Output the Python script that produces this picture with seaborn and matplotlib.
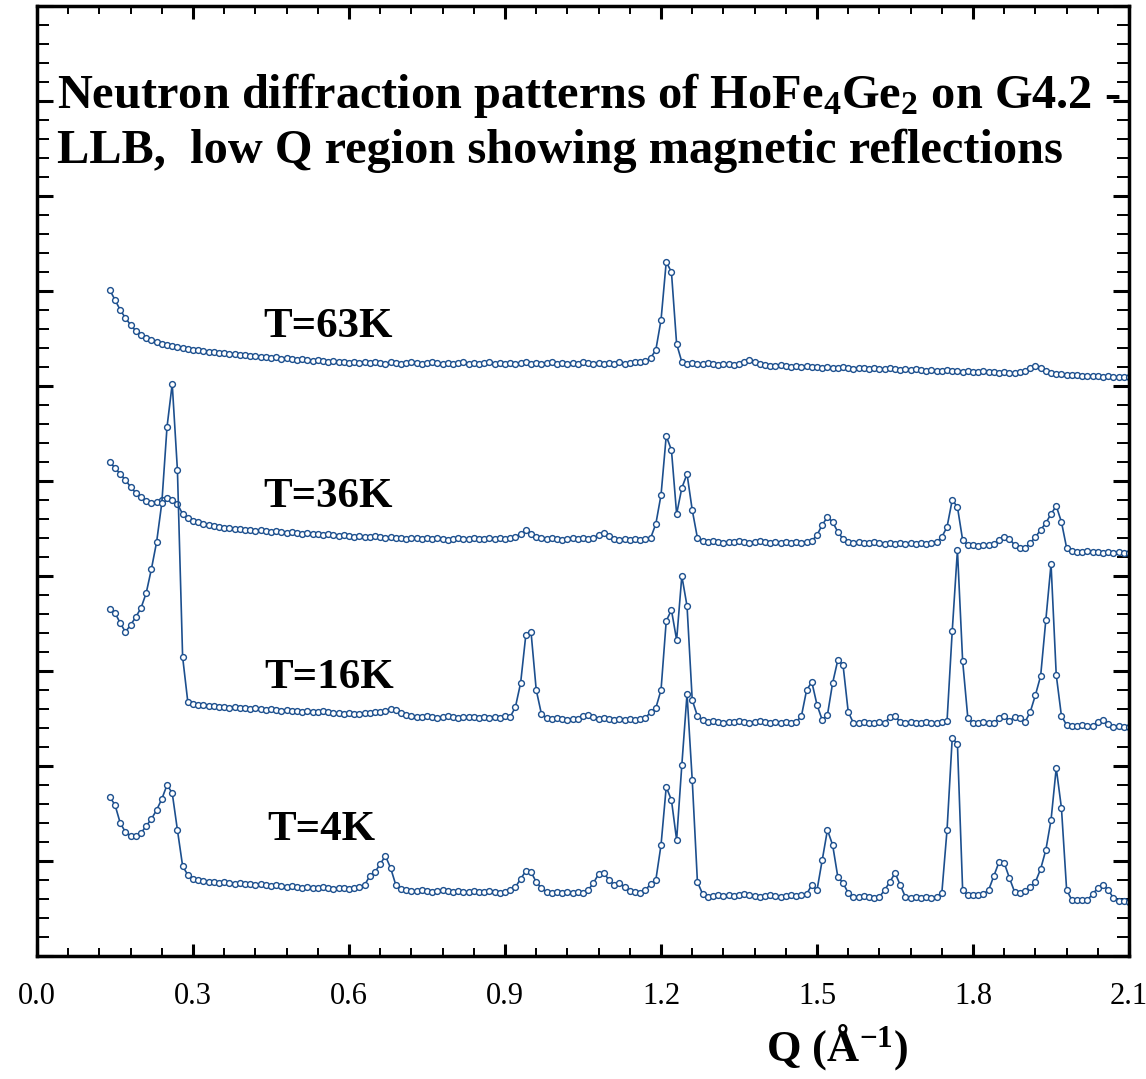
import numpy as np
import pandas as pd
import matplotlib
matplotlib.use("Agg")
import matplotlib.pyplot as plt
from matplotlib.ticker import MultipleLocator, FormatStrFormatter
import seaborn as sns


# scan grid, one point every 0.01 A^-1 from 0.14 to 2.10
Q = np.round(np.arange(14, 211) / 100, 2)

LABELS = ["T=63K", "T=36K", "T=16K", "T=4K"]

# intensities as drawn (already stacked), arbitrary units
I_63K = [
    666, 656, 646, 638, 631, 625, 621, 618, 616, 614,
    612, 611, 610, 609, 608, 607, 606, 606, 605, 604,
    604, 603, 603, 602, 602, 601, 601, 600, 600, 599,
    599, 598, 599, 597, 598, 597, 596, 597, 596, 595,
    596, 595, 594, 595, 594, 594, 593, 594, 593, 594,
    593, 594, 593, 592, 594, 593, 592, 593, 594, 593,
    592, 593, 594, 593, 592, 593, 592, 593, 594, 592,
    593, 592, 593, 594, 592, 593, 592, 593, 592, 593,
    594, 592, 593, 592, 593, 594, 592, 593, 592, 593,
    592, 594, 593, 592, 593, 592, 593, 592, 594, 592,
    593, 594, 594, 595, 598, 606, 636, 694, 684, 612,
    594, 592, 593, 592, 592, 593, 592, 591, 592, 592,
    591, 592, 594, 596, 594, 592, 591, 590, 590, 591,
    590, 589, 590, 589, 590, 589, 589, 588, 589, 588,
    588, 589, 588, 587, 588, 588, 587, 588, 587, 587,
    588, 587, 586, 587, 586, 587, 586, 585, 586, 585,
    585, 586, 585, 585, 584, 585, 584, 584, 585, 584,
    584, 583, 584, 583, 583, 584, 585, 588, 590, 588,
    585, 583, 582, 582, 581, 581, 581, 580, 580, 580,
    580, 579, 580, 579, 579, 579, 579,
]

I_36K = [
    494, 488, 482, 476, 469, 463, 459, 455, 453, 454,
    456, 458, 456, 452, 442, 438, 435, 434, 432, 431,
    430, 429, 428, 428, 427, 427, 426, 426, 425, 426,
    425, 424, 425, 424, 423, 424, 423, 422, 423, 422,
    422, 421, 422, 421, 420, 421, 420, 419, 420, 419,
    419, 420, 419, 418, 419, 418, 418, 417, 418, 418,
    417, 418, 417, 418, 417, 416, 417, 418, 417, 417,
    418, 417, 417, 418, 417, 418, 417, 418, 419, 422,
    426, 422, 419, 418, 417, 418, 417, 416, 417, 418,
    417, 418, 417, 418, 421, 423, 420, 417, 416, 417,
    416, 417, 416, 417, 418, 432, 461, 520, 506, 442,
    468, 482, 446, 418, 415, 414, 415, 414, 413, 414,
    414, 415, 414, 413, 414, 415, 414, 413, 414, 413,
    414, 413, 414, 413, 414, 415, 421, 431, 439, 434,
    424, 417, 414, 413, 414, 413, 413, 414, 413, 412,
    413, 412, 413, 412, 413, 412, 413, 412, 413, 414,
    419, 429, 456, 449, 416, 411, 411, 410, 411, 411,
    412, 416, 419, 417, 411, 408, 408, 413, 419, 426,
    433, 442, 450, 434, 408, 405, 404, 404, 405, 404,
    404, 403, 404, 403, 404, 403, 403,
]

I_16K = [
    347, 343, 333, 324, 331, 339, 348, 363, 387, 414,
    453, 529, 572, 486, 299, 254, 252, 251, 251, 250,
    250, 249, 249, 248, 249, 248, 248, 247, 248, 247,
    246, 247, 246, 245, 246, 245, 245, 244, 245, 244,
    244, 245, 244, 243, 243, 242, 243, 242, 242, 243,
    243, 244, 244, 245, 247, 246, 243, 241, 240, 239,
    239, 240, 239, 238, 239, 240, 239, 238, 239, 239,
    239, 238, 239, 238, 239, 238, 240, 239, 249, 273,
    321, 324, 266, 242, 238, 237, 238, 237, 236, 237,
    237, 240, 241, 239, 237, 238, 237, 236, 237, 236,
    237, 236, 237, 238, 244, 248, 266, 335, 346, 316,
    380, 350, 256, 240, 236, 234, 235, 234, 233, 234,
    234, 235, 234, 233, 234, 235, 234, 233, 234, 233,
    234, 233, 234, 240, 266, 274, 251, 236, 241, 273,
    296, 291, 244, 233, 233, 234, 233, 233, 234, 233,
    239, 240, 234, 233, 234, 233, 233, 234, 233, 233,
    234, 235, 325, 406, 295, 238, 233, 233, 234, 233,
    233, 238, 240, 235, 239, 238, 234, 244, 261, 280,
    336, 392, 281, 240, 231, 230, 230, 231, 230, 230,
    234, 236, 232, 229, 230, 229, 229,
]

I_4K = [
    159, 151, 133, 124, 120, 120, 123, 130, 137, 146,
    157, 171, 163, 126, 90, 81, 77, 76, 75, 74,
    74, 73, 74, 73, 72, 73, 72, 72, 71, 72,
    71, 70, 71, 70, 69, 70, 69, 68, 69, 68,
    68, 69, 68, 67, 68, 68, 67, 68, 69, 71,
    80, 84, 92, 100, 88, 71, 67, 66, 65, 65,
    66, 65, 64, 65, 66, 65, 64, 65, 64, 64,
    65, 64, 64, 65, 64, 63, 64, 66, 69, 77,
    85, 84, 74, 68, 64, 63, 64, 63, 64, 63,
    64, 63, 66, 73, 82, 83, 76, 71, 73, 69,
    65, 64, 63, 66, 72, 76, 111, 169, 156, 116,
    191, 262, 176, 74, 62, 59, 60, 61, 60, 61,
    60, 61, 62, 61, 60, 59, 60, 61, 60, 59,
    60, 61, 60, 61, 62, 71, 66, 96, 126, 111,
    79, 73, 63, 59, 59, 60, 59, 58, 59, 66,
    74, 83, 71, 59, 58, 59, 58, 59, 58, 59,
    63, 126, 218, 212, 66, 61, 61, 61, 62, 66,
    80, 94, 93, 78, 64, 63, 65, 69, 74, 87,
    106, 136, 188, 148, 66, 56, 56, 56, 56, 62,
    68, 71, 66, 58, 55, 55, 54,
]

# where the temperature labels sit (Q, intensity)
LABEL_Q = [0.435, 0.435, 0.438, 0.443]
LABEL_I = [619, 449, 268, 116]

LINE_COLOR = "#1c4f8e"


def build_frame():
    parts = []
    for label, values in zip(LABELS, [I_63K, I_36K, I_16K, I_4K]):
        parts.append(pd.DataFrame({"Q": Q, "I": values, "T": label}))
    return pd.concat(parts, ignore_index=True)


def main():
    df = build_frame()

    sns.set_style("ticks")
    plt.rcParams["font.family"] = ["Liberation Serif", "DejaVu Serif"]
    plt.rcParams["mathtext.fontset"] = "custom"
    plt.rcParams["mathtext.rm"] = "Liberation Serif:bold"
    plt.rcParams["mathtext.bf"] = "Liberation Serif:bold"
    plt.rcParams["mathtext.it"] = "Liberation Serif:bold:italic"
    plt.rcParams["text.color"] = "black"
    plt.rcParams["axes.labelcolor"] = "black"
    plt.rcParams["xtick.color"] = "black"
    plt.rcParams["ytick.color"] = "black"

    fig = plt.figure(figsize=(11.46, 10.79), dpi=100)
    ax = fig.add_axes([0.0323, 0.114, 0.9529, 0.8805])

    sns.lineplot(
        data=df, x="Q", y="I", hue="T", palette=[LINE_COLOR] * 4,
        estimator=None, sort=False, legend=False, ax=ax,
        linewidth=1.2, marker="o", markersize=4.2,
        markerfacecolor="white", markeredgecolor=LINE_COLOR, markeredgewidth=1.0,
    )

    ax.set_xlim(0.0, 2.1)
    ax.set_ylim(0, 950)
    ax.xaxis.set_major_locator(MultipleLocator(0.3))
    ax.xaxis.set_minor_locator(MultipleLocator(0.06))
    ax.xaxis.set_major_formatter(FormatStrFormatter("%.1f"))
    ax.yaxis.set_major_locator(MultipleLocator(95))
    ax.yaxis.set_minor_locator(MultipleLocator(19))
    ax.set_yticklabels([])
    ax.set_ylabel("")

    ax.tick_params(axis="both", which="both", direction="in",
                   top=True, right=True, color="black", labelcolor="black")
    ax.tick_params(axis="x", which="major", length=9, width=2.2, pad=19, labelsize=22)
    ax.tick_params(axis="x", which="minor", length=6, width=1.4)
    ax.tick_params(axis="y", which="major", length=11.5, width=2.2)
    ax.tick_params(axis="y", which="minor", length=8.5, width=1.4)
    for spine in ax.spines.values():
        spine.set_linewidth(2.5)
        spine.set_color("black")

    ax.set_xlabel("Q (Å$^{-1}$)", fontsize=32, fontweight="bold", color="black")
    ax.xaxis.set_label_coords(0.733, -0.07)

    ax.text(0.038, 848, "Neutron diffraction patterns of HoFe$_4$Ge$_2$ on G4.2 -",
            fontsize=34.8, fontweight="bold", va="baseline", ha="left", color="black")
    ax.text(0.038, 793, "LLB,  low Q region showing magnetic reflections",
            fontsize=34.8, fontweight="bold", va="baseline", ha="left", color="black")

    for q, y, label in zip(LABEL_Q, LABEL_I, LABELS):
        ax.text(q, y, label, fontsize=31, fontweight="bold", va="baseline",
                ha="left", color="black")

    fig.savefig("out.png", dpi=100)
    plt.close(fig)


if __name__ == "__main__":
    main()
